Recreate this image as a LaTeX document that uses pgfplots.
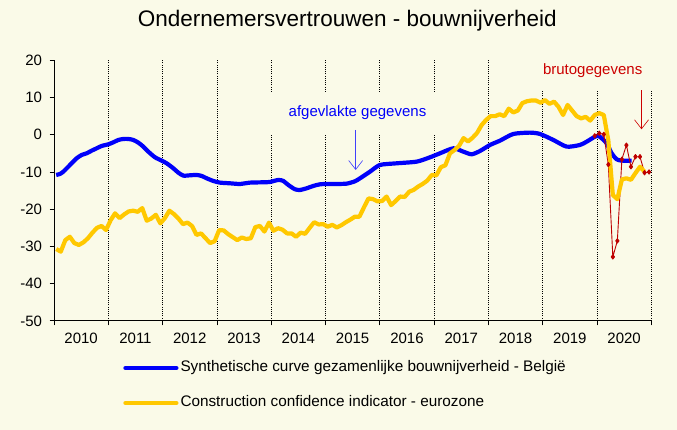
\documentclass[border=0pt]{standalone}
\usepackage{pgfplots}
\pgfplotsset{compat=1.18}
\usepackage{pgfplotstable}
\usepackage{fontspec}
\setmainfont{Liberation Sans}
\usetikzlibrary{arrows.meta}
\definecolor{bg}{RGB}{250,250,232}
\definecolor{cblue}{RGB}{0,0,250}
\definecolor{cyel}{RGB}{255,200,0}
\definecolor{cred}{RGB}{190,0,0}
\definecolor{tred}{RGB}{204,0,0}

% month index i: 0 = Jan 2010
\pgfplotstableread[row sep=\\]{
i v\\
0 -30.7\\ 1 -31.4\\ 2 -28.3\\ 3 -27.4\\ 4 -29.1\\ 5 -29.6\\ 6 -28.9\\ 7 -27.8\\ 8 -26.3\\ 9 -25.0\\ 10 -24.5\\ 11 -25.6\\
12 -23.0\\ 13 -21.1\\ 14 -22.4\\ 15 -21.4\\ 16 -20.6\\ 17 -20.4\\ 18 -20.7\\ 19 -19.7\\ 20 -23.1\\ 21 -22.5\\ 22 -21.5\\ 23 -23.8\\
24 -22.4\\ 25 -20.4\\ 26 -21.3\\ 27 -22.5\\ 28 -24.0\\ 29 -23.6\\ 30 -24.5\\ 31 -26.9\\ 32 -26.5\\ 33 -27.8\\ 34 -29.1\\ 35 -28.6\\
36 -25.6\\ 37 -25.7\\ 38 -26.7\\ 39 -27.5\\ 40 -28.3\\ 41 -27.6\\ 42 -28.0\\ 43 -27.8\\ 44 -24.8\\ 45 -24.5\\ 46 -26.0\\ 47 -23.6\\
48 -25.8\\ 49 -25.1\\ 50 -25.5\\ 51 -26.5\\ 52 -26.5\\ 53 -27.4\\ 54 -26.3\\ 55 -26.6\\ 56 -25.0\\ 57 -23.5\\ 58 -24.1\\ 59 -24.0\\
60 -24.7\\ 61 -24.2\\ 62 -24.9\\ 63 -24.3\\ 64 -23.5\\ 65 -22.8\\ 66 -22.0\\ 67 -22.0\\ 68 -19.5\\ 69 -17.1\\ 70 -17.3\\ 71 -17.9\\
72 -17.8\\ 73 -16.6\\ 74 -18.9\\ 75 -17.8\\ 76 -16.6\\ 77 -16.7\\ 78 -15.3\\ 79 -14.8\\ 80 -13.9\\ 81 -13.2\\ 82 -12.3\\ 83 -10.8\\
84 -10.9\\ 85 -8.7\\ 86 -8.2\\ 87 -5.0\\ 88 -4.1\\ 89 -3.0\\ 90 -0.9\\ 91 -1.8\\ 92 -0.8\\ 93 0.5\\ 94 2.6\\ 95 4.0\\
96 5.0\\ 97 5.0\\ 98 5.5\\ 99 5.0\\ 100 7.0\\ 101 6.0\\ 102 6.5\\ 103 8.5\\ 104 9.0\\ 105 9.2\\ 106 9.2\\ 107 8.6\\
108 9.3\\ 109 8.3\\ 110 8.9\\ 111 7.5\\ 112 5.3\\ 113 8.0\\ 114 6.5\\ 115 5.0\\ 116 4.4\\ 117 4.8\\ 118 3.8\\ 119 5.3\\
120 5.8\\ 121 5.3\\ 122 -1.5\\ 123 -16.2\\ 124 -17.3\\ 125 -12.0\\ 126 -11.7\\ 127 -12.1\\ 128 -10.3\\ 129 -8.6\\ 130 -9.9\\
}\yellowdata

\pgfplotstableread[row sep=\\]{
i v\\
119 -0.3\\ 120 0.4\\ 121 0.1\\ 122 -8.0\\ 123 -32.8\\ 124 -28.5\\ 125 -6.6\\ 126 -2.8\\ 127 -8.6\\ 128 -5.9\\ 129 -5.9\\ 130 -10.2\\ 131 -10.0\\
}\reddata

\pgfplotstableread[row sep=\\]{
t v\\
2010.04 -10.80\\ 2010.110 -10.53\\ 2010.172 -9.91\\ 2010.295 -8.11\\ 2010.417 -6.32\\ 2010.510 -5.43\\
2010.602 -4.98\\ 2010.694 -4.27\\ 2010.786 -3.64\\ 2010.878 -3.01\\ 2011.001 -2.56\\ 2011.093 -2.03\\
2011.185 -1.40\\ 2011.277 -1.13\\ 2011.369 -1.13\\ 2011.461 -1.40\\ 2011.553 -2.12\\ 2011.645 -3.19\\
2011.737 -4.54\\ 2011.860 -6.06\\ 2011.983 -6.95\\ 2012.075 -7.67\\ 2012.198 -9.01\\ 2012.290 -10.18\\
2012.382 -10.98\\ 2012.505 -10.89\\ 2012.627 -10.80\\ 2012.720 -11.07\\ 2012.812 -11.70\\ 2012.934 -12.41\\
2013.057 -12.86\\ 2013.241 -13.04\\ 2013.425 -13.22\\ 2013.610 -12.86\\ 2013.855 -12.77\\ 2013.978 -12.68\\
2014.131 -12.14\\ 2014.223 -12.41\\ 2014.315 -13.49\\ 2014.438 -14.65\\ 2014.530 -14.83\\ 2014.653 -14.38\\
2014.775 -13.75\\ 2014.898 -13.31\\ 2015.022 -13.22\\ 2015.206 -13.22\\ 2015.390 -13.13\\ 2015.543 -12.50\\
2015.635 -11.70\\ 2015.820 -9.91\\ 2016.004 -8.11\\ 2016.311 -7.67\\ 2016.679 -7.22\\ 2016.924 -6.06\\
2017.109 -4.98\\ 2017.354 -3.64\\ 2017.538 -4.54\\ 2017.692 -5.25\\ 2017.845 -4.36\\ 2018.030 -2.74\\
2018.214 -1.58\\ 2018.459 0.21\\ 2018.766 0.57\\ 2018.950 0.21\\ 2019.196 -1.40\\ 2019.441 -3.19\\
2019.687 -2.74\\ 2019.810 -1.85\\ 2019.963 -0.51\\ 2020.025 -0.33\\ 2020.086 -0.95\\ 2020.178 -2.30\\
2020.270 -4.98\\ 2020.362 -6.59\\ 2020.455 -6.95\\ 2020.638 -6.95\\
}\bluedata

\begin{document}
\begin{tikzpicture}
\fill[bg] (0,0) rectangle (677pt,430pt);
\begin{axis}[
  at={(54pt,109.1pt)}, anchor=south west,
  scale only axis, width=597.3pt, height=260.6pt,
  xmin=2010, xmax=2021, ymin=-50, ymax=20,
  axis lines=left,
  axis line style={-, line width=0.8pt, black},
  xtick={2010,2011,2012,2013,2014,2015,2016,2017,2018,2019,2020,2021},
  xticklabels={2010,2011,2012,2013,2014,2015,2016,2017,2018,2019,2020},
  x tick label as interval,
  ytick={-50,-40,-30,-20,-10,0,10,20},
  yticklabels={-50,-40,-30,-20,-10,0,10,20},
  tick align=outside, major tick length=4.5pt,
  tick style={black, line width=0.8pt},
  xmajorgrids,
  grid style={black, line width=0.7pt, dash pattern=on 1pt off 1.2pt},
  ticklabel style={font=\fontsize{15}{18}\selectfont},
  yticklabel style={xshift=-4pt},
  xticklabel style={yshift=-4pt},
  clip=false,
  title={Ondernemersvertrouwen - bouwnijverheid},
  title style={at={(0.491,1.128)}, anchor=center, font=\fontsize{22.5}{27}\selectfont},
  legend style={at={(0.1157,-0.248)}, anchor=west, draw=none, fill=none,
    inner sep=0pt, row sep=16.5pt, column sep=0pt,
    font=\fontsize{15.3}{18}\selectfont,
    nodes={inner sep=2pt, text height=11pt, text depth=3.5pt},
    cells={anchor=west}},
  legend image code/.code={\draw[#1, line cap=round] (0pt,0pt) -- (51pt,0pt);},
  line join=round,
]
\fill[bg] (axis cs:2013.9,0) rectangle (axis cs:2017.1,11.5);
\fill[bg] (axis cs:2018.9,12) rectangle (axis cs:2021.05,20.3);

\addplot[cblue, line width=4.2pt, smooth, tension=0.4] table[x=t, y=v] {\bluedata};
\addlegendentry{Synthetische curve gezamenlijke bouwnijverheid - België}

\addplot[cred, line width=0.9pt, mark=diamond*, mark size=2.2pt, forget plot]
  table[x expr={2010+(\thisrow{i}+0.5)/12}, y=v] {\reddata};

\addplot[cyel, line width=4.2pt] table[x expr={2010+(\thisrow{i}+0.5)/12}, y=v] {\yellowdata};
\addlegendentry{Construction confidence indicator - eurozone}

\node[text=cblue, font=\fontsize{15}{18}\selectfont] at (axis cs:2015.589,5.9) {afgevlakte gegevens};
\draw[cblue!75, line width=0.6pt, -{Straight Barb[length=9pt,width=14pt]}]
  (axis cs:2015.556,1.28) -- (axis cs:2015.556,-9.46);
\node[text=tred, font=\fontsize{15}{18}\selectfont] at (axis cs:2019.92,17.2) {brutogegevens};
\draw[tred, line width=0.6pt, -{Straight Barb[length=9pt,width=14pt]}]
  (axis cs:2020.82,12.0) -- (axis cs:2020.82,1.47);
\end{axis}
\end{tikzpicture}
\end{document}
